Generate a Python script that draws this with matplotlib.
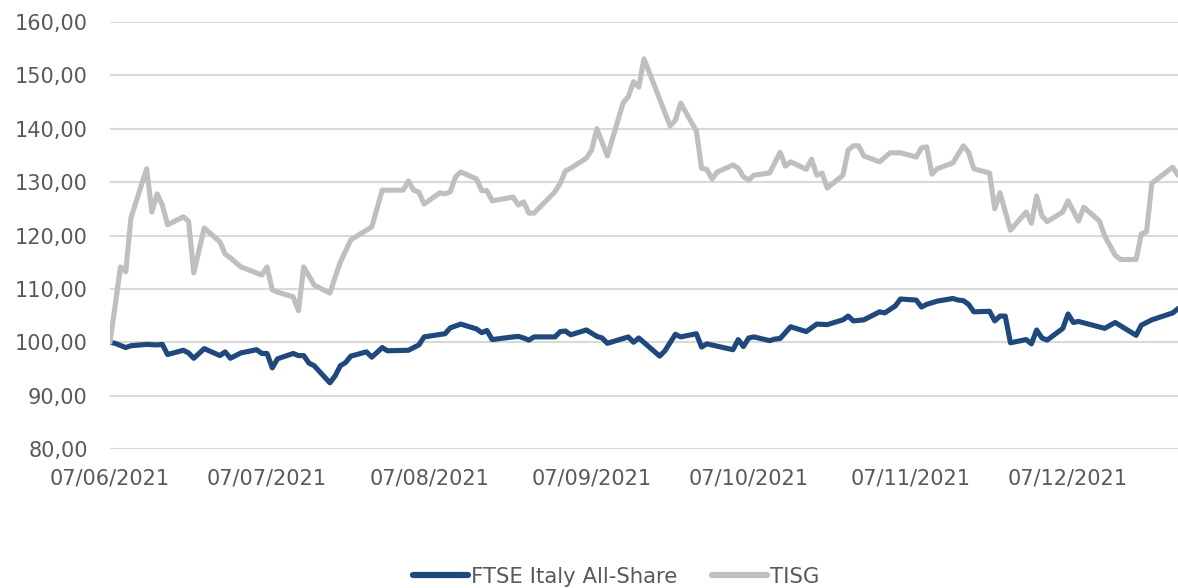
import matplotlib
matplotlib.use("Agg")
import matplotlib.pyplot as plt
import matplotlib.dates as mdates
from matplotlib.ticker import FuncFormatter, MultipleLocator
import pandas as pd

# ---------------- data ----------------
ftse_dates = [
    "2021-06-07", "2021-06-08", "2021-06-10", "2021-06-11", "2021-06-14", "2021-06-16", "2021-06-17",
    "2021-06-18", "2021-06-21", "2021-06-22", "2021-06-23", "2021-06-25", "2021-06-28", "2021-06-29",
    "2021-06-30", "2021-07-02", "2021-07-05", "2021-07-06", "2021-07-07", "2021-07-08", "2021-07-09",
    "2021-07-12", "2021-07-13", "2021-07-14", "2021-07-15", "2021-07-16", "2021-07-19", "2021-07-20",
    "2021-07-21", "2021-07-22", "2021-07-23", "2021-07-26", "2021-07-27", "2021-07-29", "2021-07-30",
    "2021-08-03", "2021-08-05", "2021-08-06", "2021-08-10", "2021-08-11", "2021-08-13", "2021-08-16",
    "2021-08-17", "2021-08-18", "2021-08-19", "2021-08-23", "2021-08-24", "2021-08-25", "2021-08-26",
    "2021-08-27", "2021-08-31", "2021-09-01", "2021-09-02", "2021-09-03", "2021-09-06", "2021-09-08",
    "2021-09-09", "2021-09-10", "2021-09-14", "2021-09-15", "2021-09-16", "2021-09-20", "2021-09-21",
    "2021-09-23", "2021-09-24", "2021-09-27", "2021-09-28", "2021-09-29", "2021-10-04", "2021-10-05",
    "2021-10-06", "2021-10-07", "2021-10-08", "2021-10-11", "2021-10-12", "2021-10-13", "2021-10-15",
    "2021-10-18", "2021-10-20", "2021-10-22", "2021-10-25", "2021-10-26", "2021-10-27", "2021-10-29",
    "2021-11-01", "2021-11-02", "2021-11-04", "2021-11-05", "2021-11-08", "2021-11-09", "2021-11-10",
    "2021-11-12", "2021-11-15", "2021-11-16", "2021-11-17", "2021-11-18", "2021-11-19", "2021-11-22",
    "2021-11-23", "2021-11-24", "2021-11-25", "2021-11-26", "2021-11-29", "2021-11-30", "2021-12-01",
    "2021-12-02", "2021-12-03", "2021-12-06", "2021-12-07", "2021-12-08", "2021-12-09", "2021-12-14",
    "2021-12-16", "2021-12-20", "2021-12-21", "2021-12-23", "2021-12-27", "2021-12-28",
]
ftse_values = [
    100.0, 99.8, 99.0, 99.35, 99.6, 99.5, 99.6,
    97.7, 98.5, 98.0, 97.0, 98.8, 97.5, 98.2,
    97.0, 98.0, 98.6, 97.9, 97.9, 95.2, 96.9,
    97.9, 97.5, 97.5, 96.1, 95.6, 92.4, 93.7,
    95.6, 96.2, 97.4, 98.2, 97.2, 99.0, 98.4,
    98.5, 99.5, 101.0, 101.6, 102.7, 103.4, 102.5,
    101.8, 102.2, 100.5, 101.0, 101.1, 100.8, 100.4,
    101.0, 101.0, 102.0, 102.1, 101.4, 102.3, 101.1,
    100.8, 99.8, 101.0, 100.0, 100.8, 97.4, 98.4,
    101.5, 101.0, 101.6, 99.1, 99.7, 98.6, 100.5,
    99.2, 100.8, 101.0, 100.3, 100.6, 100.7, 102.9,
    102.0, 103.4, 103.3, 104.2, 104.9, 104.0, 104.2,
    105.7, 105.5, 106.8, 108.1, 107.9, 106.6, 107.1,
    107.7, 108.2, 107.9, 107.8, 107.1, 105.7, 105.8,
    104.0, 104.9, 104.9, 99.9, 100.5, 99.7, 102.3,
    100.8, 100.4, 102.6, 105.3, 103.7, 103.9, 102.6,
    103.7, 101.3, 103.2, 104.2, 105.5, 106.3,
]

tisg_dates = [
    "2021-06-07", "2021-06-09", "2021-06-10", "2021-06-11", "2021-06-14", "2021-06-15", "2021-06-16",
    "2021-06-17", "2021-06-18", "2021-06-21", "2021-06-22", "2021-06-23", "2021-06-25", "2021-06-28",
    "2021-06-29", "2021-06-30", "2021-07-02", "2021-07-06", "2021-07-07", "2021-07-08", "2021-07-09",
    "2021-07-12", "2021-07-13", "2021-07-14", "2021-07-16", "2021-07-19", "2021-07-20", "2021-07-21",
    "2021-07-23", "2021-07-27", "2021-07-29", "2021-08-02", "2021-08-03", "2021-08-04", "2021-08-05",
    "2021-08-06", "2021-08-09", "2021-08-10", "2021-08-11", "2021-08-12", "2021-08-13", "2021-08-16",
    "2021-08-17", "2021-08-18", "2021-08-19", "2021-08-23", "2021-08-24", "2021-08-25", "2021-08-26",
    "2021-08-27", "2021-08-30", "2021-08-31", "2021-09-01", "2021-09-02", "2021-09-03", "2021-09-06",
    "2021-09-07", "2021-09-08", "2021-09-10", "2021-09-13", "2021-09-14", "2021-09-15", "2021-09-16",
    "2021-09-17", "2021-09-22", "2021-09-23", "2021-09-24", "2021-09-27", "2021-09-28", "2021-09-29",
    "2021-09-30", "2021-10-01", "2021-10-04", "2021-10-05", "2021-10-06", "2021-10-07", "2021-10-08",
    "2021-10-11", "2021-10-13", "2021-10-14", "2021-10-15", "2021-10-18", "2021-10-19", "2021-10-20",
    "2021-10-21", "2021-10-22", "2021-10-25", "2021-10-26", "2021-10-27", "2021-10-28", "2021-10-29",
    "2021-11-01", "2021-11-03", "2021-11-05", "2021-11-08", "2021-11-09", "2021-11-10", "2021-11-11",
    "2021-11-12", "2021-11-15", "2021-11-17", "2021-11-18", "2021-11-19", "2021-11-22", "2021-11-23",
    "2021-11-24", "2021-11-26", "2021-11-29", "2021-11-30", "2021-12-01", "2021-12-02", "2021-12-03",
    "2021-12-06", "2021-12-07", "2021-12-09", "2021-12-10", "2021-12-13", "2021-12-14", "2021-12-16",
    "2021-12-17", "2021-12-20", "2021-12-21", "2021-12-22", "2021-12-23", "2021-12-27", "2021-12-28",
]
tisg_values = [
    100.0, 114.1, 113.2, 123.3, 132.5, 124.4, 127.8,
    125.7, 122.0, 123.5, 122.7, 113.0, 121.4, 118.8,
    116.5, 115.8, 114.1, 112.6, 114.1, 109.8, 109.4,
    108.5, 105.9, 114.1, 110.7, 109.2, 112.2, 115.0,
    119.2, 121.6, 128.5, 128.5, 130.2, 128.5, 128.1,
    125.9, 128.0, 127.8, 128.2, 131.0, 131.9, 130.6,
    128.4, 128.4, 126.5, 127.2, 125.7, 126.3, 124.2,
    124.2, 127.2, 128.2, 129.8, 132.1, 132.6, 134.5,
    136.0, 140.0, 134.9, 144.8, 146.0, 148.8, 147.8,
    153.1, 140.5, 141.6, 144.8, 139.6, 132.6, 132.4,
    130.6, 131.9, 133.2, 132.6, 131.0, 130.4, 131.3,
    131.7, 135.6, 133.0, 133.8, 132.4, 134.3, 131.3,
    131.7, 128.9, 131.3, 136.0, 136.8, 136.8, 134.9,
    133.8, 135.5, 135.5, 134.7, 136.4, 136.6, 131.5,
    132.5, 133.6, 136.8, 135.6, 132.5, 131.7, 125.0,
    128.0, 121.0, 124.4, 122.3, 127.4, 123.7, 122.6,
    124.4, 126.5, 122.7, 125.3, 122.7, 119.9, 116.3,
    115.5, 115.5, 120.3, 120.7, 129.8, 132.8, 131.3,
]

series_names = ["FTSE Italy All-Share", "TISG"]
x_start, x_end = "2021-06-07", "2021-12-28"

# ---------------- plot ----------------
plt.rcParams['font.family'] = ['DejaVu Sans']
fig = plt.figure(figsize=(11.78, 5.88), dpi=100)
ax = fig.add_axes([110/1178, 1 - 449/588, 1 - 110/1178, 427/588])

ax.plot(pd.to_datetime(ftse_dates), ftse_values, color="#1F497D", lw=3.7,
        solid_joinstyle="round", solid_capstyle="round", label=series_names[0], zorder=3)
ax.plot(pd.to_datetime(tisg_dates), tisg_values, color="#BFBFBF", lw=3.7,
        solid_joinstyle="round", solid_capstyle="round", label=series_names[1], zorder=4)

ax.set_ylim(80, 160)
ax.set_xlim(pd.Timestamp(x_start), pd.Timestamp(x_end))
ax.yaxis.set_major_locator(MultipleLocator(10))
ax.yaxis.set_major_formatter(FuncFormatter(lambda v, p: f"{v:.2f}".replace(".", ",")))
ax.xaxis.set_major_locator(mdates.MonthLocator(bymonthday=7))
ax.xaxis.set_major_formatter(mdates.DateFormatter("%d/%m/%Y"))

ax.grid(axis="y", color="#D9D9D9", lw=1.5, zorder=0)
ax.set_axisbelow(True)
for s in ax.spines.values():
    s.set_visible(False)
ax.tick_params(axis="both", length=0, labelsize=15, labelcolor="#595959")
ax.tick_params(axis="y", pad=16)
ax.tick_params(axis="x", pad=14)

leg = fig.legend(loc="center", bbox_to_anchor=(0.523, 0.019), ncol=2, frameon=False,
                 fontsize=15.3, handlelength=2.6, handletextpad=0.15, columnspacing=1.6,
                 labelcolor="#595959")
for h in leg.get_lines():
    h.set_linewidth(4.5)

fig.savefig("out.png", dpi=100)
